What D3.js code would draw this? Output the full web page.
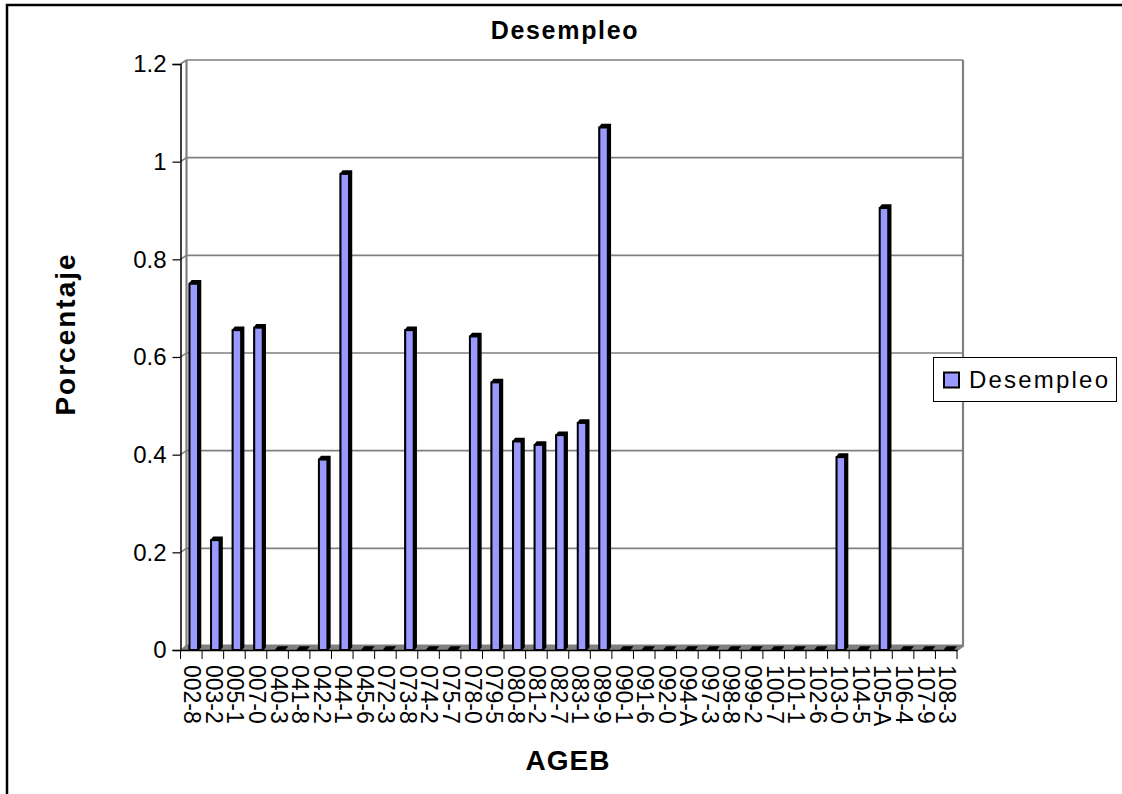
<!DOCTYPE html>
<html>
<head>
<meta charset="utf-8">
<script src="https://cdn.jsdelivr.net/npm/d3@7"></script>
<style>
  html, body { margin: 0; padding: 0; background: #fff; }
  svg { display: block; }
  text { font-family: "Liberation Sans", Arial, sans-serif; fill: #000; }
</style>
</head>
<body>
<svg id="chart" width="1122" height="794"></svg>
<script>
const categories = ["002-8","003-2","005-1","007-0","040-3","041-8","042-2","044-1","045-6","072-3","073-8","074-2","075-7","078-0","079-5","080-8","081-2","082-7","083-1","089-9","090-1","091-6","092-0","094-A","097-3","098-8","099-2","100-7","101-1","102-6","103-0","104-5","105-A","106-4","107-9","108-3"];
const values = [0.75,0.225,0.655,0.66,0,0,0.39,0.975,0,0,0.655,0,0,0.642,0.548,0.427,0.42,0.44,0.465,1.07,0,0,0,0,0,0,0,0,0,0,0.395,0,0.905,0,0,0];
const yTicks = [0,0.2,0.4,0.6,0.8,1,1.2];

const svg = d3.select("#chart");

// plot box: front axis plane, the back wall is shifted by depth
const plotLeft = 180.5, plotRight = 957, plotTop = 64, plotBottom = 650;
const dx = 6, dy = -4;

const x = d3.scaleBand().domain(categories).range([plotLeft, plotRight]);
const y = d3.scaleLinear().domain([0, 1.2]).range([plotBottom, plotTop]);

// page frame, open on the right and at the bottom
svg.append("path")
  .attr("d", "M7,794V5H1122")
  .attr("fill", "none").attr("stroke", "#000").attr("stroke-width", 2.5);

// floor
svg.append("path")
  .attr("d", `M${plotLeft},${plotBottom}L${plotLeft + dx},${plotBottom + dy - 1}H${plotRight + dx}L${plotRight},${plotBottom}Z`)
  .attr("fill", "#808080").attr("stroke", "#808080");

// gridlines on the back wall and its side
const grid = svg.append("g").attr("stroke", "#808080").attr("fill", "none");
grid.selectAll("path").data(yTicks.slice(1)).join("path")
  .attr("d", d => `M${plotLeft},${y(d)}L${plotLeft + dx},${y(d) + dy}H${plotRight + dx}`)
  .attr("stroke-width", 1.6);
grid.append("path")
  .attr("d", `M${plotLeft + dx},${plotTop + dy}V${plotBottom + dy}`).attr("stroke-width", 2.2);
grid.append("path")
  .attr("d", `M${plotRight + dx},${plotTop + dy}V${plotBottom + dy}L${plotRight},${plotBottom}`).attr("stroke-width", 2.2);

// bars
const barW = 8.5, sideW = 2.5;
const bars = svg.append("g").selectAll("g").data(categories).join("g")
  .attr("transform", d => `translate(${x(d) + 9},0)`);

bars.append("path") // top + side
  .attr("d", (d, i) => {
    const t = y(values[i]);
    return `M0,${t}L${sideW},${t - 3}H${barW + sideW}V${plotBottom - 3}L${barW},${plotBottom}H0Z`;
  })
  .attr("fill", "#000").attr("stroke", "#000").attr("stroke-width", 1.5);

bars.append("rect")
  .attr("x", 0).attr("width", barW)
  .attr("y", (d, i) => y(values[i]))
  .attr("height", (d, i) => plotBottom - y(values[i]))
  .attr("fill", "#9999ff").attr("stroke", "#000").attr("stroke-width", 2);

// y axis
const yAxis = d3.axisLeft(y).tickValues(yTicks).tickSize(8).tickPadding(6).tickFormat(d => String(d));
const gy = svg.append("g").attr("transform", `translate(${plotLeft},0)`).call(yAxis);
gy.select(".domain").attr("stroke", "#000").attr("stroke-width", 1.5);
gy.selectAll("line").attr("stroke", "#000").attr("stroke-width", 1.2);
gy.selectAll("text").attr("font-size", 24);

// x axis
const xAxis = d3.axisBottom(x).tickSize(0).tickPadding(0);
const gx = svg.append("g").attr("transform", `translate(0,${plotBottom})`).call(xAxis);
gx.select(".domain").attr("stroke", "#000").attr("stroke-width", 1.5);
gx.selectAll(".tick text")
  .attr("font-size", 23)
  .attr("text-anchor", "start")
  .attr("transform", "translate(1,15) rotate(90)")
  .attr("x", 0).attr("y", 0).attr("dy", "0.35em");
gx.selectAll(".edge").data(d3.range(categories.length + 1)).join("line")
  .attr("class", "edge")
  .attr("x1", i => plotLeft + i * x.step()).attr("x2", i => plotLeft + i * x.step())
  .attr("y1", 0).attr("y2", 9)
  .attr("stroke", "#000").attr("stroke-width", 1);

// titles
svg.append("text").attr("x", 565).attr("y", 39).attr("text-anchor", "middle")
  .attr("font-size", 25).attr("font-weight", "bold").attr("letter-spacing", 1.7).text("Desempleo");
svg.append("text").attr("x", 568).attr("y", 770).attr("text-anchor", "middle")
  .attr("font-size", 28).attr("font-weight", "bold").attr("letter-spacing", 1).text("AGEB");
svg.append("text").attr("transform", "translate(75,334) rotate(-90)").attr("text-anchor", "middle")
  .attr("font-size", 28).attr("font-weight", "bold").attr("letter-spacing", 2).text("Porcentaje");

// legend
const legend = svg.append("g");
legend.append("rect").attr("x", 933.5).attr("y", 357.5).attr("width", 183).attr("height", 44)
  .attr("fill", "#fff").attr("stroke", "#000");
legend.append("rect").attr("x", 944).attr("y", 372.5).attr("width", 15).attr("height", 15)
  .attr("fill", "#9999ff").attr("stroke", "#000").attr("stroke-width", 2);
legend.append("text").attr("x", 969).attr("y", 388).attr("font-size", 24)
  .attr("letter-spacing", 2.2).text("Desempleo");
</script>
</body>
</html>
